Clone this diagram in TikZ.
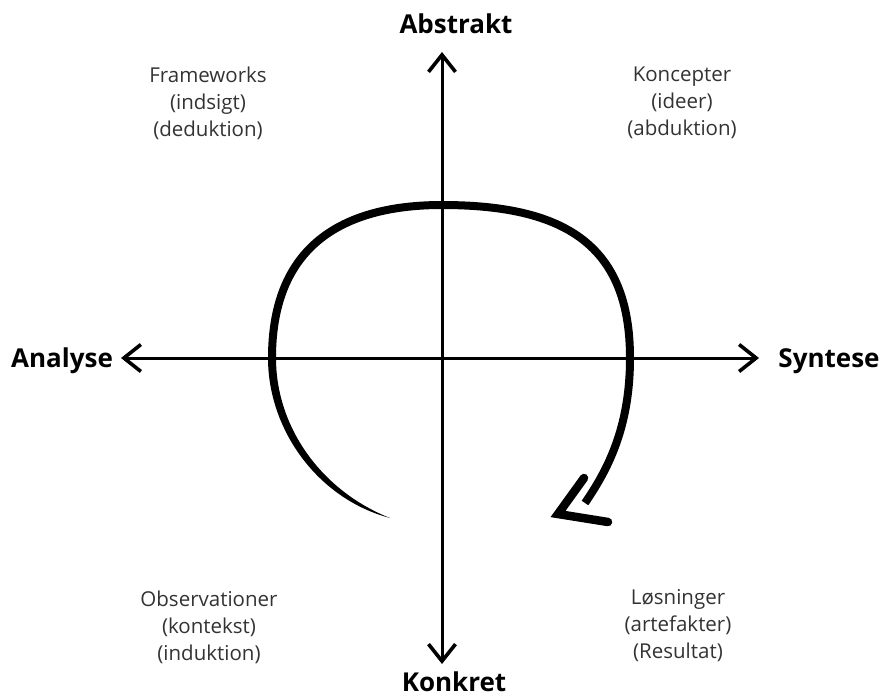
\documentclass[tikz,border=0pt]{standalone}
\usepackage{fontspec}
\setmainfont{Open Sans}
\usetikzlibrary{arrows.meta}
\begin{document}
\begin{tikzpicture}[x=1pt,y=-1pt,
  axis/.style={line width=3pt,
    {Straight Barb[length=17pt,width=27pt,line width=3.6pt]}-{Straight Barb[length=17pt,width=27pt,line width=3.6pt]}},
  pole/.style={font=\bfseries\fontsize{26}{30}\selectfont, inner sep=0pt, anchor=base},
  quad/.style={align=center, text=black!80, font=\fontsize{20.5}{27}\selectfont, inner sep=0pt},
  loopline/.style={line width=8pt},
  headline/.style={line width=8.5pt, line cap=round, line join=miter}]
\useasboundingbox (0,0) rectangle (883,696);
% axes
\coordinate (L) at (121,358);
\coordinate (R) at (759,358);
\coordinate (T) at (442,52);
\coordinate (B) at (442,664);
\draw[axis] (L) -- (R);
\draw[axis] (T) -- (B);
% pole labels
\node[pole] (abstrakt) at (456,33) {Abstrakt};
\node[pole] (konkret) at (454,691) {Konkret};
\node[pole] (analyse) at (62,367) {Analyse};
\node[pole] (syntese) at (829,367) {Syntese};
% quadrant texts
\node[quad] (fw) at (208,103) {Frameworks\\(indsigt)\\(deduktion)};
\node[quad] (ko) at (682,103) {Koncepter\\(ideer)\\(abduktion)};
\node[quad] (ob) at (209,627) {Observationer\\(kontekst)\\(induktion)};
\node[quad] (lo) at (678,626) {Løsninger\\(artefakter)\\(Resultat)};
% loop: tapered tail
\coordinate (tail) at (390,518);
\fill (tail) .. controls (318,499) and (268,430) .. (268,358)
  -- (276,358) .. controls (276,428) and (322,491) .. (tail) -- cycle;
% loop: main stroke
\coordinate (lmid) at (272,358);
\coordinate (top) at (442,205);
\coordinate (rmid) at (630,358);
\coordinate (lend) at (585,503);
\draw[loopline] (lmid) .. controls (272,240) and (350,205) .. (top)
  .. controls (565,205) and (630,245) .. (rmid)
  .. controls (630,430) and (606,472) .. (lend);
% arrow head
\coordinate (h1) at (584,478);
\coordinate (tip) at (558,514);
\coordinate (h2) at (608,522);
\draw[headline] (h1) -- (tip) -- (h2);
\end{tikzpicture}
\end{document}
